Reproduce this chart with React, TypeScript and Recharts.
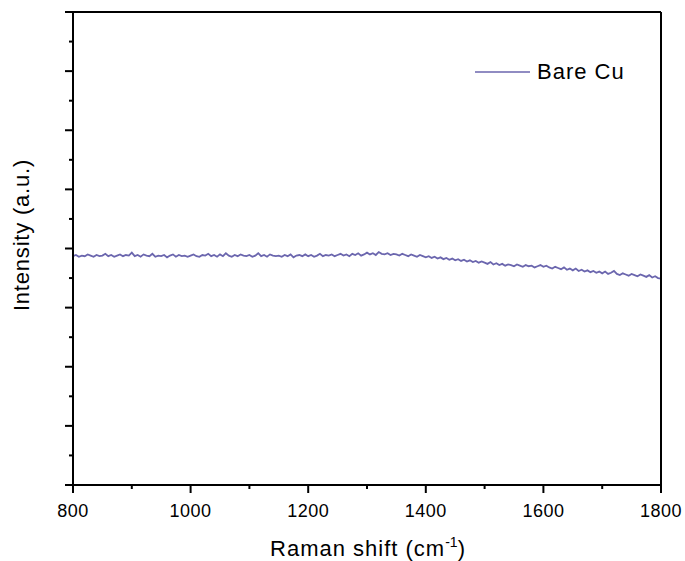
import React from "react";
import { LineChart, Line, XAxis, YAxis, Label } from "recharts";

// spectrum sampled every 5 cm-1 from 800 to 1800
const shiftStart = 800;
const shiftStep = 5;
const bareCu = [
  3.87, 3.89, 3.86, 3.88, 3.87, 3.9, 3.88, 3.86, 3.89, 3.87,
  3.88, 3.91, 3.87, 3.89, 3.86, 3.88, 3.9, 3.87, 3.89, 3.88,
  3.93, 3.87, 3.89, 3.86, 3.9, 3.88, 3.87, 3.91, 3.86, 3.88,
  3.87, 3.89, 3.85, 3.88, 3.9, 3.86, 3.89, 3.87, 3.88, 3.86,
  3.88, 3.9, 3.87, 3.86, 3.89, 3.88, 3.91, 3.87, 3.89, 3.86,
  3.9, 3.87, 3.92, 3.88, 3.86, 3.89, 3.87, 3.9, 3.88, 3.87,
  3.89, 3.86, 3.88, 3.92, 3.87, 3.89, 3.86, 3.9, 3.88, 3.87,
  3.88, 3.86, 3.89, 3.87, 3.9, 3.85, 3.88, 3.89, 3.87, 3.9,
  3.87, 3.89, 3.86, 3.88, 3.91, 3.87, 3.89, 3.88, 3.9, 3.87,
  3.89, 3.91, 3.88, 3.9, 3.87, 3.91, 3.89, 3.92, 3.88, 3.9,
  3.93, 3.9, 3.92, 3.89, 3.94, 3.91, 3.9, 3.92, 3.89, 3.91,
  3.9, 3.88, 3.91, 3.89, 3.87, 3.9, 3.88, 3.86, 3.89, 3.87,
  3.85, 3.87, 3.84, 3.86, 3.83, 3.85, 3.82, 3.84, 3.81, 3.83,
  3.8, 3.82, 3.79, 3.81, 3.78, 3.8, 3.77, 3.79, 3.76, 3.78,
  3.76, 3.74, 3.77, 3.73, 3.75, 3.72, 3.74, 3.71, 3.73, 3.72,
  3.7, 3.73, 3.71, 3.69, 3.72, 3.7, 3.71, 3.68, 3.7, 3.72,
  3.69, 3.71, 3.68, 3.66, 3.69, 3.67, 3.65, 3.68, 3.64, 3.66,
  3.63, 3.66, 3.62, 3.64, 3.61, 3.63, 3.6, 3.62, 3.59, 3.61,
  3.58, 3.61, 3.57, 3.59, 3.62, 3.57, 3.55, 3.58, 3.56, 3.54,
  3.57, 3.55, 3.53, 3.56, 3.54, 3.52, 3.55, 3.51, 3.53, 3.5,
  3.49,
];

const xTicks = [800, 900, 1000, 1100, 1200, 1300, 1400, 1500, 1600, 1700, 1800];
const yTicks = [0, 0.5, 1, 1.5, 2, 2.5, 3, 3.5, 4, 4.5, 5, 5.5, 6, 6.5, 7, 7.5, 8];

const data = bareCu.map((v, i) => ({ shift: shiftStart + i * shiftStep, intensity: v }));

const FONT = "'Liberation Sans', Arial, sans-serif";
const LINE_COLOR = "#6b66ae";
const MAJOR = 8;
const MINOR = 4;

const BottomTick = ({ x, y, payload }: any) => {
  const major = payload.value % 200 === 0;
  return (
    <g>
      <line x1={x} x2={x} y1={y} y2={y + (major ? MAJOR : MINOR)} stroke="#000" strokeWidth={2} />
      {major && (
        <text x={x} y={y + 32} textAnchor="middle" fontSize={18} fontFamily={FONT} fill="#000" letterSpacing={0.5}>
          {payload.value}
        </text>
      )}
    </g>
  );
};

const TopTick = ({ x, y, payload }: any) => {
  const major = payload.value % 200 === 0;
  return <line x1={x} x2={x} y1={y} y2={y + (major ? MAJOR : MINOR)} stroke="#000" strokeWidth={2} />;
};

const SideTick = ({ x, y, payload }: any) => {
  const major = payload.value % 1 === 0;
  return <line x1={x} x2={x - (major ? MAJOR : MINOR)} y1={y} y2={y} stroke="#000" strokeWidth={2} />;
};

export default function App() {
  const axisLine = { stroke: "#000", strokeWidth: 2 };
  return (
    <div style={{ position: "absolute", left: 0, top: 0, width: 685, height: 561, background: "#fff" }}>
      <LineChart width={685} height={561} data={data} margin={{ top: 11, right: 23, bottom: 0, left: 0 }}>
        <XAxis
          dataKey="shift"
          type="number"
          domain={[800, 1800]}
          ticks={xTicks}
          interval={0}
          height={76}
          axisLine={axisLine}
          tickLine={false}
          tickSize={0}
          tickMargin={0}
          tick={<BottomTick />}
        >
          <Label
            content={() => (
              <text x={368} y={556} textAnchor="middle" fontSize={22} fontFamily={FONT} fill="#000" letterSpacing={1}>
                Raman shift (cm
                <tspan dy={-9} fontSize={14} letterSpacing={0}>-1</tspan>
                <tspan dy={9}>)</tspan>
              </text>
            )}
          />
        </XAxis>
        <XAxis
          xAxisId="top"
          orientation="top"
          type="number"
          domain={[800, 1800]}
          ticks={xTicks}
          interval={0}
          height={1}
          axisLine={axisLine}
          tickLine={false}
          tickSize={0}
          tickMargin={0}
          tick={<TopTick />}
        />
        <YAxis
          type="number"
          domain={[0, 8]}
          ticks={yTicks}
          interval={0}
          width={73}
          axisLine={axisLine}
          tickLine={false}
          tickSize={0}
          tickMargin={0}
          tick={<SideTick />}
        >
          <Label
            content={() => (
              <text
                x={29}
                y={235}
                textAnchor="middle"
                fontSize={22}
                fontFamily={FONT}
                fill="#000"
                letterSpacing={0.8}
                transform="rotate(-90 29 235)"
              >
                Intensity (a.u.)
              </text>
            )}
          />
        </YAxis>
        <YAxis
          yAxisId="right"
          orientation="right"
          type="number"
          domain={[0, 8]}
          ticks={yTicks}
          interval={0}
          width={1}
          axisLine={axisLine}
          tickLine={false}
          tickSize={0}
          tickMargin={0}
          tick={<SideTick />}
        />
        <Line
          type="linear"
          dataKey="intensity"
          stroke={LINE_COLOR}
          strokeWidth={1.8}
          dot={false}
          isAnimationActive={false}
        />
      </LineChart>
      <div
        style={{
          position: "absolute",
          top: 61,
          left: 475,
          display: "flex",
          alignItems: "center",
          fontFamily: FONT,
          fontSize: 22,
          lineHeight: "22px",
        }}
      >
        <svg width={56} height={22}>
          <line x1={0} x2={55} y1={11} y2={11} stroke={LINE_COLOR} strokeWidth={1.6} />
        </svg>
        <span style={{ marginLeft: 6, letterSpacing: 1 }}>Bare Cu</span>
      </div>
    </div>
  );
}
